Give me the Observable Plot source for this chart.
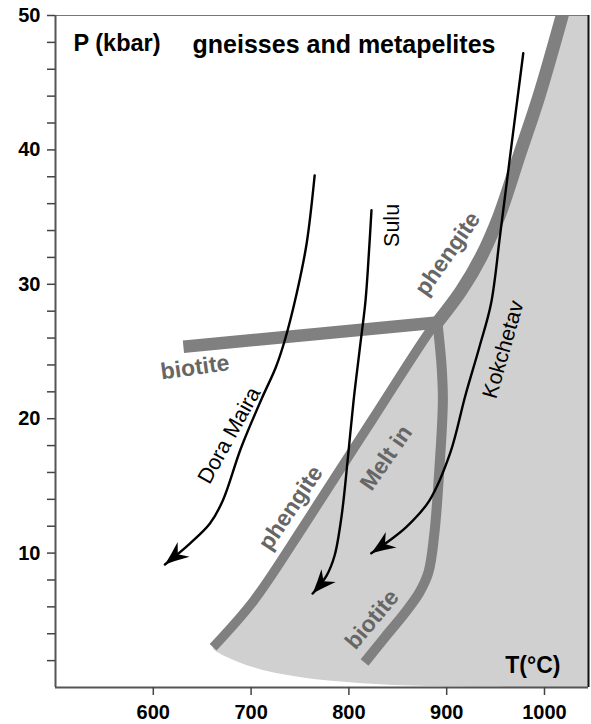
<!DOCTYPE html>
<html>
<head>
<meta charset="utf-8">
<script src="https://cdn.jsdelivr.net/npm/d3@7"></script>
<script src="https://cdn.jsdelivr.net/npm/@observablehq/plot@0.6"></script>
<style>
  html, body { margin: 0; padding: 0; background: #fff; }
  #chart svg { display: block; }
  g[aria-label$="tick label"] { font-weight: bold; font-size: 20px; }
</style>
</head>
<body>
<div id="chart"></div>
<script>
// ---- axis ticks ----
const xTicks = [600, 700, 800, 900, 1000];
const yTicks = [2, 4, 6, 8, 10, 12, 14, 16, 18, 20, 22, 24, 26, 28, 30, 32, 34, 36, 38, 40, 42, 44, 46, 48, 50];
const yLabels = [10, 20, 30, 40, 50];

// ---- reaction curves (T in °C, P in kbar) ----
const phengiteLowT = [661.2, 702.8, 753.1, 773.5, 824.5, 885.7, 890.5];
const phengiteLowP = [3.0, 6.47, 11.94, 14.24, 19.99, 26.81, 27.16];
const phengiteHighT = [890.5, 915.0, 935.4, 953.8, 974.2, 994.6, 1018.1];
const phengiteHighP = [27.16, 29.54, 32.07, 35.12, 39.58, 44.05, 50.0];
const biotiteT = [630.8, 890.5];
const biotiteP = [25.35, 27.16];
const meltT = [890.5, 894.6, 896.1, 892.6, 887.4, 881.3, 872.1, 856.8, 837.4, 816.0];
const meltP = [27.16, 24.11, 21.35, 16.37, 11.46, 8.56, 7.07, 5.51, 3.79, 1.86];
// lower edge of the shaded field
const fieldBaseT = [974.2, 882.3, 810.9, 749.7, 698.7, 663.0];
const fieldBaseP = [0.0, 0.07, 0.30, 0.74, 1.56, 2.75];

// ---- P-T paths ----
const doraT = [765.0, 756.8, 746.6, 734.4, 725.2, 710.9, 689.5, 671.1, 657.9, 637.4, 611.9];
const doraP = [38.10, 33.04, 29.32, 25.82, 23.81, 21.50, 17.78, 13.91, 12.20, 10.71, 9.15];
const suluT = [823.1, 820.6, 817.0, 810.9, 804.8, 798.7, 792.6, 785.4, 777.2, 762.9];
const suluP = [35.51, 32.51, 28.79, 25.07, 21.35, 16.89, 12.80, 9.82, 8.33, 6.99];
const kokT = [978.3, 966.5, 954.8, 945.3, 933.4, 919.1, 903.8, 882.3, 858.6, 841.5, 822.9];
const kokP = [47.19, 40.48, 33.78, 28.55, 25.32, 21.73, 17.49, 13.91, 11.93, 10.94, 9.99];

// ---- labels ----
const grayLabels = ["biotite", "phengite", "phengite", "Melt in", "biotite"];
const grayLabelT = [642.6, 901.0, 740.5, 838.2, 823.7];
const grayLabelP = [23.81, 32.27, 13.36, 17.08, 5.06];
const grayLabelAngle = [-8, -55, -56, -55, -50];
const pathLabels = ["Dora Maira", "Sulu", "Kokchetav"];
const pathLabelT = [677.6, 844.1, 957.9];
const pathLabelP = [18.75, 34.38, 25.15];
const pathLabelAngle = [-61, -90, -74];

const xMin = 500, xMax = 1045, yMin = 0, yMax = 50;

// ---- build tables ----
const rows = (T, P, extra = {}) => T.map((t, i) => ({T: t, P: P[i], ...extra}));
const field = rows(fieldBaseT, fieldBaseP).concat(rows(phengiteLowT, phengiteLowP), rows(phengiteHighT, phengiteHighP).slice(1));
const paths = [
  ...rows(doraT, doraP, {name: "Dora Maira"}),
  ...rows(suluT, suluP, {name: "Sulu"}),
  ...rows(kokT, kokP, {name: "Kokchetav"})
];
const gLab = grayLabels.map((s, i) => ({s, T: grayLabelT[i], P: grayLabelP[i], a: grayLabelAngle[i]}));
const pLab = pathLabels.map((s, i) => ({s, T: pathLabelT[i], P: pathLabelP[i], a: pathLabelAngle[i]}));

const band = "#808080";
const pathColor = "#010101";
const font = "'Liberation Sans', Arial, Helvetica, sans-serif";

const chart = Plot.plot({
  width: 591,
  height: 724,
  marginTop: 15,
  marginBottom: 37,
  marginLeft: 55,
  marginRight: 3,
  x: {domain: [xMin, xMax], label: null},
  y: {domain: [yMin, yMax], label: null},
  style: {fontFamily: font, background: "#fff", color: "#000"},
  marks: [
    Plot.areaX(field, {y: "P", x1: "T", x2: xMax, fill: "#d0d0d0", curve: "catmull-rom"}),
    Plot.line(rows(biotiteT, biotiteP), {x: "T", y: "P", stroke: band, strokeWidth: 12.5, strokeLinecap: "butt"}),
    Plot.line(rows(meltT, meltP), {x: "T", y: "P", stroke: band, strokeWidth: 10, strokeLinecap: "butt", strokeLinejoin: "round", curve: "catmull-rom"}),
    Plot.line(rows(phengiteLowT, phengiteLowP), {x: "T", y: "P", stroke: band, strokeWidth: 9.5, strokeLinecap: "butt", curve: "catmull-rom"}),
    Plot.line(rows(phengiteHighT, phengiteHighP), {x: "T", y: "P", stroke: band, strokeWidth: 13, strokeLinecap: "round", curve: "catmull-rom", clip: true}),
    Plot.line(paths, {x: "T", y: "P", z: "name", stroke: pathColor, strokeWidth: 2.4, curve: "catmull-rom"}),
    Plot.text(gLab, {x: "T", y: "P", text: "s", rotate: "a", fill: "#666", fontSize: 23, fontWeight: "bold"}),
    Plot.text(pLab, {x: "T", y: "P", text: "s", rotate: "a", fill: "#000", fontSize: 21.5}),
    Plot.text(["P (kbar)"], {frameAnchor: "top-left", textAnchor: "start", lineAnchor: "middle", dx: 18, dy: 28, fontSize: 23.5, fontWeight: "bold", fill: "#000"}),
    Plot.text(["gneisses and metapelites"], {frameAnchor: "top", lineAnchor: "middle", dx: 22, dy: 29, fontSize: 25, fontWeight: "bold", fill: "#000"}),
    Plot.text(["T(°C)"], {frameAnchor: "bottom-right", textAnchor: "end", lineAnchor: "middle", dx: -28, dy: -22, fontSize: 23, fontWeight: "bold", fill: "#000"}),
    Plot.ruleY([yMax], {stroke: "#777", strokeWidth: 1.2}),
    Plot.ruleX([xMax], {stroke: "#111", strokeWidth: 2}),
    Plot.ruleX([xMin], {stroke: "#555", strokeWidth: 2}),
    Plot.ruleY([yMin], {stroke: "#555", strokeWidth: 2}),
    Plot.axisX({ticks: xTicks, tickSize: 8, tickPadding: 9, stroke: "#444", strokeWidth: 1.5, fontSize: 20, fontWeight: "bold", label: null,
      tickFormat: d => String(d)}),
    Plot.axisY({ticks: yTicks, tickSize: 8, tickPadding: 7, stroke: "#444", strokeWidth: 1.5, fontSize: 20, fontWeight: "bold", label: null,
      tickFormat: d => yLabels.includes(d) ? String(d) : ""})
  ]
});

document.getElementById("chart").appendChild(chart);

// arrowheads on the P-T paths
const svg = chart.tagName.toLowerCase() === "svg" ? chart : chart.querySelector("svg");
const ns = "http://www.w3.org/2000/svg";
const defs = document.createElementNS(ns, "defs");
const marker = document.createElementNS(ns, "marker");
marker.setAttribute("id", "arrowhead");
marker.setAttribute("viewBox", "-27 -12 29 24");
marker.setAttribute("refX", "0");
marker.setAttribute("refY", "0");
marker.setAttribute("markerUnits", "userSpaceOnUse");
marker.setAttribute("markerWidth", "29");
marker.setAttribute("markerHeight", "24");
marker.setAttribute("orient", "auto");
const head = document.createElementNS(ns, "path");
head.setAttribute("d", "M0,0 Q-11,-3.8 -24,-9.5 L-16.5,0 L-24,9.5 Q-11,3.8 0,0 Z");
head.setAttribute("fill", "#000");
marker.appendChild(head);
defs.appendChild(marker);
svg.insertBefore(defs, svg.firstChild);
svg.querySelectorAll('g[stroke="' + pathColor + '"] path').forEach(p => p.setAttribute("marker-end", "url(#arrowhead)"));
</script>
</body>
</html>
